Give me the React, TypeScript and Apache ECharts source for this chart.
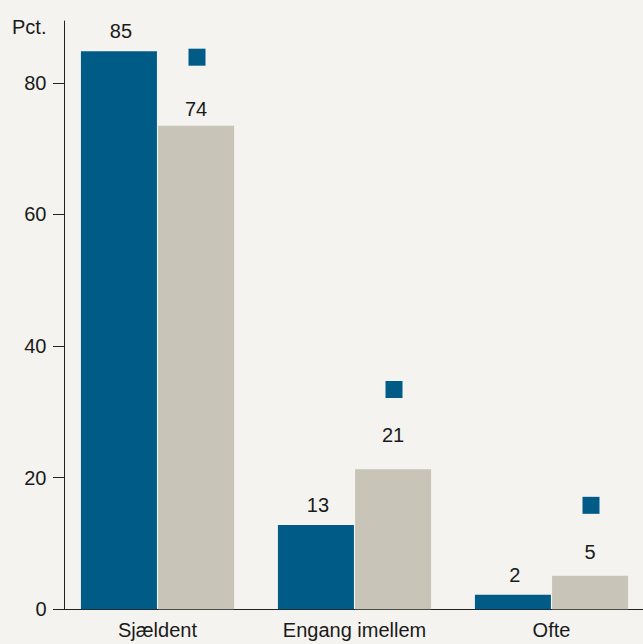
import React, { useEffect, useRef } from "react";
import * as echarts from "echarts";

const categories = ["Sjældent", "Engang imellem", "Ofte"];
const seriesA = [84.8, 12.8, 2.2];
const seriesB = [73.5, 21.3, 5.1];
const markers = [83.9, 33.4, 15.8];
const yTicks = [0, 20, 40, 60, 80];
const yMax = 89.4;

const BLUE = "#005b87";
const BEIGE = "#c8c4b8";
const BG = "#f4f3ef";
const INK = "#1a1a1a";
const FONT = "'Liberation Sans', Arial, Helvetica, sans-serif";
const labelGapB = [7, 24, 14];

export default function App() {
  const ref = useRef<HTMLDivElement>(null);
  useEffect(() => {
    if (!ref.current) return;
    const chart = echarts.init(ref.current, undefined, { renderer: "svg" });
    chart.setOption({
      animation: false,
      backgroundColor: BG,
      textStyle: { fontFamily: FONT },
      title: {
        text: "Pct.",
        left: 12,
        top: 17,
        padding: 0,
        textStyle: { fontSize: 20, fontWeight: "normal", color: INK, fontFamily: FONT },
      },
      grid: { left: 59, right: 0, top: 21, bottom: 34.7, containLabel: false },
      xAxis: {
        type: "category",
        data: categories,
        axisTick: { show: false },
        axisLine: { lineStyle: { color: "#222", width: 1 } },
        axisLabel: { fontSize: 20, color: INK, margin: 11, fontFamily: FONT },
      },
      yAxis: {
        type: "value",
        min: 0,
        max: yMax,
        offset: -5,
        splitLine: { show: false },
        axisLine: { show: true, lineStyle: { color: "#222", width: 1 } },
        axisTick: { show: true, length: 11, customValues: yTicks, lineStyle: { color: "#222" } },
        axisLabel: { customValues: yTicks, fontSize: 20, color: INK, margin: 17.5, fontFamily: FONT },
      },
      series: [
        {
          type: "bar",
          data: seriesA,
          barWidth: 76,
          barGap: "1.5%",
          itemStyle: { color: BLUE },
          label: {
            show: true,
            position: "top",
            distance: 10,
            offset: [2, 0],
            fontSize: 20,
            color: INK,
            fontFamily: FONT,
            formatter: (p: any) => String(Math.round(p.value)),
          },
        },
        {
          type: "bar",
          data: seriesB.map((v, i) => ({ value: v, label: { distance: labelGapB[i] } })),
          barWidth: 76,
          barGap: "1.5%",
          itemStyle: { color: BEIGE },
          label: {
            show: true,
            position: "top",
            fontSize: 20,
            color: INK,
            fontFamily: FONT,
            formatter: (p: any) => String(Math.round(p.value)),
          },
        },
        {
          type: "scatter",
          data: markers,
          symbol: "rect",
          symbolSize: 17,
          symbolOffset: [39.5, 0],
          itemStyle: { color: BLUE, opacity: 1 },
          z: 5,
        },
      ],
    });
    return () => chart.dispose();
  }, []);
  return (
    <div
      style={{
        position: "absolute",
        left: 0,
        top: 0,
        width: 643,
        height: 644,
        overflow: "hidden",
        background: BG,
      }}
    >
      <div ref={ref} style={{ width: 650, height: 644 }} />
    </div>
  );
}
